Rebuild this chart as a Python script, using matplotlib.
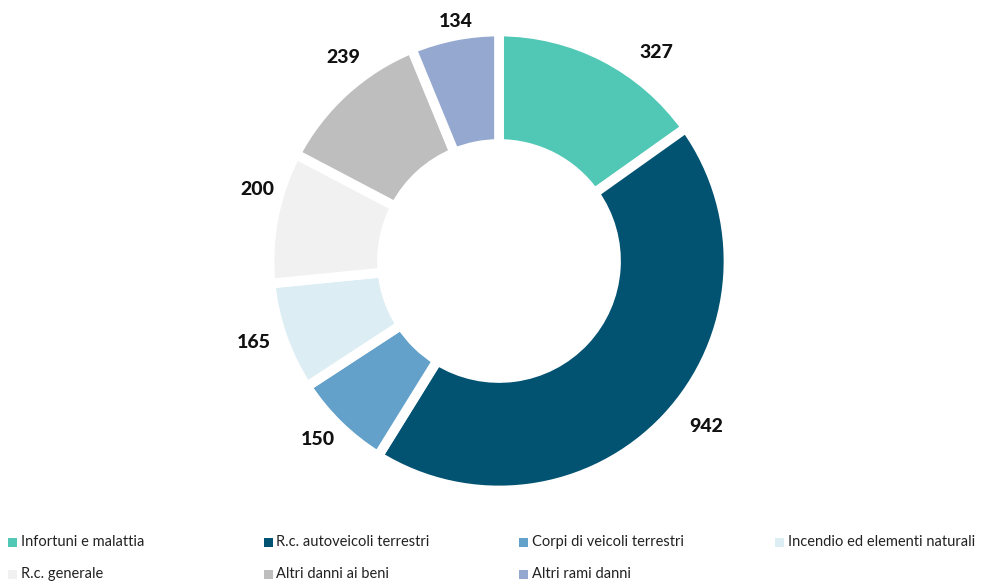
import numpy as np
import matplotlib
matplotlib.use("Agg")
import matplotlib.pyplot as plt
from matplotlib.patches import Rectangle

categories = [
    "Infortuni e malattia",
    "R.c. autoveicoli terrestri",
    "Corpi di veicoli terrestri",
    "Incendio ed elementi naturali",
    "R.c. generale",
    "Altri danni ai beni",
    "Altri rami danni",
]
values = [327, 942, 150, 165, 200, 239, 134]
colors = ["#50C8B5", "#025272", "#63A1CA", "#DCEEF4", "#F1F1F1", "#BEBEBE", "#95A9D0"]

# label placement: angular shift (deg, clockwise) from wedge middle and distance in radii
label_shift = [-9.7, 4.6, -1.2, -1.1, -5.4, -4.8, -1.0]
label_dist = [1.16, 1.18, 1.13, 1.15, 1.12, 1.14, 1.08]

W, H = 981, 581
fig = plt.figure(figsize=(W / 100, H / 100), dpi=100)
ax = fig.add_axes([0, 0, 1, 1])

# donut geometry in pixels
cx, cy, R = 499, 261, 225

wedges, _ = ax.pie(
    values,
    colors=colors,
    startangle=90,
    counterclock=False,
    radius=1.02,
    wedgeprops=dict(width=0.5, edgecolor="white", linewidth=7),
)

for w, v, sh, d in zip(wedges, values, label_shift, label_dist):
    mid = np.deg2rad((w.theta1 + w.theta2) / 2 + sh)
    ax.text(d * np.cos(mid), d * np.sin(mid), f"{v}", ha="center", va="center",
            fontsize=14, fontweight="black", family="Lato", color="#111111")

ax.set_xlim(-cx / R, (W - cx) / R)
ax.set_ylim(-(H - cy) / R, cy / R)
ax.set_aspect("equal", adjustable="box")
ax.axis("off")

# legend laid out in a 4-column grid
for i, (cat, col) in enumerate(zip(categories, colors)):
    c, r = i % 4, i // 4
    x = 8 + c * 255.5
    y = 542 + r * 32
    fig.patches.append(Rectangle((x / W, 1 - (y + 5) / H), 9 / W, 9 / H,
                                 transform=fig.transFigure, facecolor=col,
                                 edgecolor="none"))
    fig.text((x + 13) / W, 1 - y / H, cat, ha="left", va="center",
             fontsize=10.5, family="Lato", color="#222222")

fig.savefig("out.png", dpi=100)
